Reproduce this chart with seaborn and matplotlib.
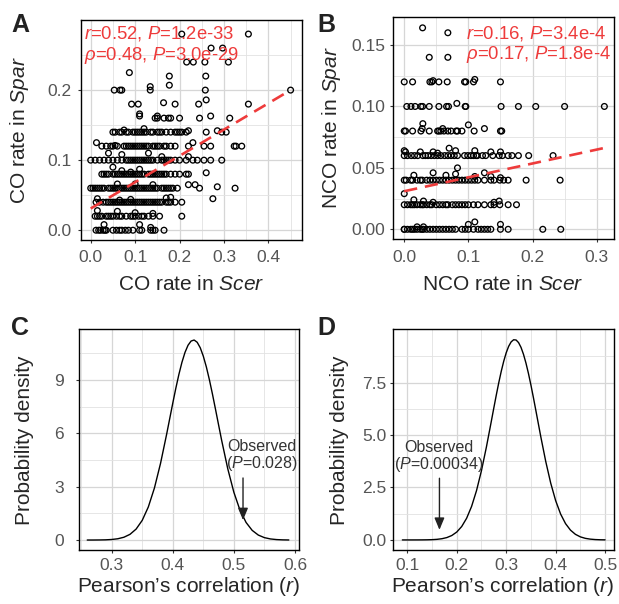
import matplotlib
matplotlib.use("Agg")
import matplotlib.pyplot as plt
from matplotlib.ticker import FixedLocator
from matplotlib.transforms import Bbox
import numpy as np
import seaborn as sns

# ---- Panel A: CO rates (Scer on x, Spar on y), grouped by Spar level ----
co_spar_levels = [0.00, 0.02, 0.04, 0.06, 0.08, 0.10, 0.12, 0.14, 0.16, 0.18, 0.20, 0.24, 0.26, 0.28]
co_scer_at_level = [
    [0.012, 0.018, 0.022, 0.028, 0.032, 0.035, 0.05, 0.058, 0.065, 0.07, 0.078, 0.085, 0.095, 0.11, 0.115, 0.135,
     0.14, 0.145, 0.165],
    [0.01, 0.015, 0.02, 0.025, 0.035, 0.04, 0.045, 0.05, 0.058, 0.065, 0.07, 0.08, 0.09, 0.095, 0.1, 0.108, 0.115,
     0.12, 0.13, 0.14, 0.155, 0.205],
    [0.012, 0.02, 0.028, 0.035, 0.04, 0.045, 0.05, 0.055, 0.06, 0.065, 0.07, 0.075, 0.08, 0.085, 0.09, 0.095, 0.1,
     0.105, 0.11, 0.115, 0.12, 0.125, 0.13, 0.135, 0.14, 0.145, 0.15, 0.155, 0.16, 0.17, 0.175, 0.18, 0.19, 0.205],
    [0.0, 0.005, 0.01, 0.015, 0.02, 0.025, 0.03, 0.04, 0.045, 0.05, 0.055, 0.06, 0.065, 0.07, 0.075, 0.08, 0.085,
     0.09, 0.095, 0.1, 0.105, 0.11, 0.115, 0.12, 0.125, 0.13, 0.135, 0.14, 0.145, 0.15, 0.16, 0.165, 0.17, 0.175,
     0.18, 0.185, 0.195, 0.245, 0.325],
    [0.025, 0.03, 0.035, 0.04, 0.05, 0.055, 0.06, 0.065, 0.07, 0.075, 0.08, 0.085, 0.09, 0.095, 0.1, 0.105, 0.11,
     0.115, 0.12, 0.13, 0.135, 0.14, 0.145, 0.15, 0.155, 0.16, 0.165, 0.17, 0.18, 0.19, 0.2, 0.215, 0.22],
    [0.0, 0.01, 0.02, 0.03, 0.04, 0.05, 0.06, 0.07, 0.08, 0.085, 0.09, 0.095, 0.1, 0.105, 0.11, 0.115, 0.12, 0.125,
     0.13, 0.135, 0.14, 0.15, 0.16, 0.165, 0.17, 0.175, 0.18, 0.19, 0.2, 0.215, 0.23, 0.24, 0.255, 0.27, 0.295],
    [0.045, 0.05, 0.06, 0.075, 0.08, 0.085, 0.09, 0.095, 0.1, 0.105, 0.11, 0.115, 0.12, 0.125, 0.13, 0.14, 0.145,
     0.15, 0.155, 0.165, 0.17, 0.18, 0.19, 0.255, 0.27, 0.323, 0.327, 0.34],
    [0.05, 0.055, 0.065, 0.07, 0.08, 0.085, 0.095, 0.1, 0.105, 0.11, 0.115, 0.12, 0.125, 0.135, 0.14, 0.15, 0.155,
     0.16, 0.17, 0.18, 0.19, 0.195, 0.2, 0.205, 0.215, 0.26, 0.295, 0.305],
    [0.145, 0.15, 0.165, 0.175, 0.18, 0.2, 0.245, 0.313],
    [0.092, 0.107, 0.19, 0.243, 0.355],
    [0.053, 0.066, 0.07, 0.134, 0.258, 0.45],
    [0.216, 0.231, 0.257, 0.31],
    [0.271, 0.297],
    [0.205, 0.355],
]
# points that sit between the main levels
co_extra_scer = [0.03, 0.11, 0.135, 0.015, 0.06, 0.1, 0.14, 0.015, 0.17, 0.18, 0.275, 0.09, 0.065, 0.06, 0.1, 0.14,
                 0.22, 0.235, 0.285, 0.05, 0.07, 0.09, 0.11, 0.26, 0.07, 0.04, 0.13, 0.16, 0.22, 0.013, 0.025, 0.035,
                 0.055, 0.23, 0.22, 0.075, 0.12, 0.22, 0.285, 0.11, 0.11, 0.15, 0.27, 0.164, 0.26, 0.134, 0.177,
                 0.177, 0.259, 0.087]
co_extra_spar = [0.008, 0.008, 0.004, 0.028, 0.027, 0.025, 0.024, 0.045, 0.046, 0.047, 0.045, 0.044, 0.043, 0.066,
                 0.066, 0.065, 0.065, 0.065, 0.062, 0.09, 0.085, 0.083, 0.087, 0.082, 0.108, 0.11, 0.11, 0.105,
                 0.105, 0.125, 0.12, 0.12, 0.121, 0.125, 0.12, 0.143, 0.145, 0.142, 0.142, 0.166, 0.163, 0.163,
                 0.163, 0.182, 0.186, 0.205, 0.207, 0.22, 0.22, 0.225]
co_fit_x = [0.0, 0.45]
co_fit_y = [0.031, 0.2]

# ---- Panel B: NCO rates ----
nco_spar_levels = [0.00, 0.02, 0.04, 0.06, 0.08, 0.10, 0.12, 0.14, 0.16]
nco_scer_at_level = [
    [0.0, 0.0, 0.005, 0.01, 0.013, 0.016, 0.02, 0.025, 0.028, 0.03, 0.035, 0.04, 0.045, 0.05, 0.055, 0.06, 0.065,
     0.07, 0.075, 0.08, 0.09, 0.095, 0.1, 0.108, 0.115, 0.12, 0.125, 0.13, 0.135, 0.15, 0.162, 0.216, 0.244],
    [0.0, 0.005, 0.01, 0.013, 0.016, 0.02, 0.025, 0.028, 0.03, 0.035, 0.04, 0.043, 0.05, 0.055, 0.06, 0.065, 0.068,
     0.075, 0.08, 0.085, 0.09, 0.095, 0.1, 0.108, 0.115, 0.125, 0.135, 0.14, 0.149, 0.162, 0.175],
    [0.0, 0.003, 0.01, 0.013, 0.02, 0.025, 0.028, 0.035, 0.04, 0.045, 0.05, 0.055, 0.06, 0.065, 0.07, 0.075, 0.08,
     0.085, 0.09, 0.095, 0.1, 0.105, 0.11, 0.115, 0.125, 0.135, 0.14, 0.149, 0.155, 0.162, 0.19, 0.243],
    [0.0, 0.005, 0.011, 0.016, 0.021, 0.029, 0.033, 0.037, 0.042, 0.047, 0.052, 0.057, 0.063, 0.068, 0.073, 0.078,
     0.083, 0.094, 0.099, 0.104, 0.108, 0.112, 0.114, 0.122, 0.127, 0.138, 0.148, 0.153, 0.162, 0.168, 0.178,
     0.194, 0.232],
    [0.0, 0.002, 0.013, 0.026, 0.039, 0.052, 0.054, 0.057, 0.062, 0.068, 0.073, 0.081, 0.083, 0.09, 0.109, 0.15,
     0.152],
    [0.004, 0.0105, 0.017, 0.026, 0.0286, 0.039, 0.054, 0.066, 0.069, 0.095, 0.096, 0.151, 0.178, 0.205, 0.25,
     0.312],
    [0.0, 0.013, 0.04, 0.043, 0.054, 0.067, 0.094, 0.096, 0.108, 0.15],
    [0.039, 0.068],
    [0.068],
]
nco_extra_scer = [0.1, 0.11, 0.15, 0.02, 0.03, 0.015, 0.03, 0.045, 0.14, 0.148, 0.015, 0.045, 0.065, 0.083, 0.08,
                  0.11, 0.125, 0.135, 0.15, 0.0, 0.0, 0.002, 0.025, 0.045, 0.052, 0.07, 0.08, 0.11, 0.135, 0.15,
                  0.029, 0.028, 0.06, 0.1, 0.125, 0.082, 0.045, 0.11, 0.0286]
nco_extra_spar = [0.004, 0.006, 0.004, 0.002, 0.002, 0.024, 0.023, 0.022, 0.022, 0.023, 0.044, 0.046, 0.044, 0.05,
                  0.045, 0.043, 0.046, 0.043, 0.042, 0.029, 0.064, 0.063, 0.063, 0.063, 0.062, 0.066, 0.064, 0.064,
                  0.063, 0.063, 0.086, 0.082, 0.082, 0.085, 0.082, 0.1025, 0.121, 0.122, 0.164]
nco_fit_x = [0.0, 0.31]
nco_fit_y = [0.031, 0.066]

# ---- Panel C: null distribution of r for CO ----
c_r = [0.26, 0.27, 0.28, 0.29, 0.30, 0.31, 0.32, 0.33, 0.34, 0.35, 0.36, 0.37, 0.38, 0.39, 0.395, 0.40, 0.405,
       0.41, 0.415, 0.42, 0.425, 0.43, 0.435, 0.44, 0.445, 0.45, 0.455, 0.46, 0.465, 0.47, 0.475, 0.48, 0.49,
       0.50, 0.51, 0.52, 0.53, 0.54, 0.55, 0.56, 0.57, 0.58, 0.59]
c_density = [0.0005, 0.0016, 0.005, 0.012, 0.031, 0.072, 0.157, 0.321, 0.616, 1.106, 1.86, 2.927, 4.313, 5.954,
             6.824, 7.693, 8.532, 9.309, 9.991, 10.548, 10.954, 11.19, 11.247, 11.12, 10.811, 10.34, 9.731,
             9.008, 8.202, 7.347, 6.475, 5.611, 4.013, 2.688, 1.684, 0.989, 0.544, 0.28, 0.135, 0.061, 0.026,
             0.01, 0.004]
c_observed = 0.515
c_label = "Observed\n($\\mathit{P}$=0.028)"

# ---- Panel D: null distribution of r for NCO ----
d_r = [0.09, 0.10, 0.11, 0.12, 0.13, 0.14, 0.15, 0.16, 0.17, 0.18, 0.19, 0.20, 0.21, 0.22, 0.23, 0.24, 0.25,
       0.26, 0.27, 0.275, 0.28, 0.285, 0.29, 0.295, 0.30, 0.305, 0.31, 0.315, 0.32, 0.325, 0.33, 0.335, 0.34,
       0.345, 0.35, 0.355, 0.36, 0.37, 0.38, 0.39, 0.40, 0.41, 0.42, 0.43, 0.44, 0.45, 0.46, 0.47, 0.48, 0.49,
       0.50]
d_density = [0.0, 0.0001, 0.0004, 0.001, 0.0025, 0.006, 0.013, 0.028, 0.058, 0.113, 0.211, 0.376, 0.639, 1.035,
             1.597, 2.353, 3.306, 4.432, 5.667, 6.295, 6.91, 7.497, 8.039, 8.518, 8.92, 9.23, 9.44, 9.541, 9.53,
             9.407, 9.177, 8.846, 8.428, 7.935, 7.383, 6.789, 6.169, 4.917, 3.738, 2.711, 1.875, 1.237, 0.778,
             0.467, 0.267, 0.146, 0.076, 0.038, 0.018, 0.008, 0.0035]
d_observed = 0.165
d_label = "Observed\n($\\mathit{P}$=0.00034)"


def flatten(levels, xs_at_level, extra_x, extra_y):
    xs, ys = [], []
    for lev, xs_here in zip(levels, xs_at_level):
        xs += xs_here
        ys += [lev] * len(xs_here)
    return np.array(xs + extra_x), np.array(ys + extra_y)


sns.set_theme(style="white")
plt.rcParams["font.family"] = ["Liberation Sans", "DejaVu Sans"]
plt.rcParams["mathtext.fontset"] = "custom"
plt.rcParams["mathtext.rm"] = "Liberation Sans"
plt.rcParams["mathtext.it"] = "Liberation Sans:italic"
plt.rcParams["mathtext.bf"] = "Liberation Sans:bold"

red = "#EE3B3B"
tick_grey = "#555555"
W, H = 619, 604

fig = plt.figure(figsize=(W / 100, H / 100), dpi=100)
ax_a = fig.add_axes([0.1304, 0.6026, 0.3570, 0.3642])
ax_b = fig.add_axes([0.6344, 0.6043, 0.3575, 0.3671])
ax_c = fig.add_axes([0.1276, 0.0894, 0.3554, 0.3654])
ax_d = fig.add_axes([0.6354, 0.0894, 0.3565, 0.3654])


def style_axes(ax, xticks, yticks, xminor, yminor, xfmt, yfmt):
    ax.xaxis.set_major_locator(FixedLocator(xticks))
    ax.yaxis.set_major_locator(FixedLocator(yticks))
    ax.xaxis.set_minor_locator(FixedLocator(xminor))
    ax.yaxis.set_minor_locator(FixedLocator(yminor))
    ax.xaxis.set_major_formatter(plt.FormatStrFormatter(xfmt))
    ax.yaxis.set_major_formatter(plt.FormatStrFormatter(yfmt))
    ax.grid(which="major", color="#D6D6D6", linewidth=0.9)
    ax.grid(which="minor", color="#E2E2E2", linewidth=0.6)
    ax.set_axisbelow(True)
    for sp in ax.spines.values():
        sp.set_color("black")
        sp.set_linewidth(1.0)
    ax.tick_params(which="major", length=2.5, width=0.8, color="#333333", labelcolor=tick_grey,
                   labelsize=12.5, pad=4, bottom=True, left=True)
    ax.tick_params(which="minor", length=0)


def place_labels(ax, xlabel, ylabel, xlab_px, ylab_px):
    # axis titles centred at given pixel positions (from top-left)
    ax.set_xlabel(xlabel, fontsize=15)
    ax.set_ylabel(ylabel, fontsize=15)
    ax.xaxis.set_label_coords(xlab_px[0] / W, 1 - xlab_px[1] / H, transform=fig.transFigure)
    ax.yaxis.set_label_coords(ylab_px[0] / W, 1 - ylab_px[1] / H, transform=fig.transFigure)
    ax.xaxis.label.set_verticalalignment("center")
    ax.yaxis.label.set_verticalalignment("center")


# Panel A
co_x, co_y = flatten(co_spar_levels, co_scer_at_level, co_extra_scer, co_extra_spar)
sns.scatterplot(x=co_x, y=co_y, ax=ax_a, marker="o", s=17, facecolor="none", edgecolor="black", linewidth=0.95)
sns.lineplot(x=co_fit_x, y=co_fit_y, ax=ax_a, color=red, linewidth=1.9)
ax_a.lines[-1].set_dashes([5, 3])
ax_a.set_xlim(-0.0225, 0.475)
ax_a.set_ylim(-0.014, 0.30)
style_axes(ax_a, [0, 0.1, 0.2, 0.3, 0.4], [0, 0.1, 0.2], [0.05, 0.15, 0.25, 0.35, 0.45],
           [0.05, 0.15, 0.25], "%.1f", "%.1f")
place_labels(ax_a, "CO rate in $\\mathit{Scer}$", "CO rate in $\\mathit{Spar}$", (191, 285), (20, 130))
ax_a.text(-0.015, 0.281, "$\\mathit{r}$=0.52, $\\mathit{P}$=1.2e-33", color=red, fontsize=13.3, va="center")
ax_a.text(-0.015, 0.250, "$\\mathit{\\rho}$=0.48, $\\mathit{P}$=3.0e-29", color=red, fontsize=13.3, va="center")

# Panel B
nco_x, nco_y = flatten(nco_spar_levels, nco_scer_at_level, nco_extra_scer, nco_extra_spar)
sns.scatterplot(x=nco_x, y=nco_y, ax=ax_b, marker="o", s=17, facecolor="none", edgecolor="black", linewidth=0.95)
sns.lineplot(x=nco_fit_x, y=nco_fit_y, ax=ax_b, color=red, linewidth=1.9)
ax_b.lines[-1].set_dashes([5, 3])
ax_b.set_xlim(-0.018, 0.327)
ax_b.set_ylim(-0.0079, 0.1726)
style_axes(ax_b, [0, 0.1, 0.2, 0.3], [0, 0.05, 0.10, 0.15], [0.05, 0.15, 0.25],
           [0.025, 0.075, 0.125], "%.1f", "%.2f")
place_labels(ax_b, "NCO rate in $\\mathit{Scer}$", "NCO rate in $\\mathit{Spar}$", (503, 285), (331.5, 128))
ax_b.text(0.097, 0.1596, "$\\mathit{r}$=0.16, $\\mathit{P}$=3.4e-4", color=red, fontsize=13.3, va="center")
ax_b.text(0.097, 0.1420, "$\\mathit{\\rho}$=0.17, $\\mathit{P}$=1.8e-4", color=red, fontsize=13.3, va="center")

# Panel C
sns.lineplot(x=c_r, y=c_density, ax=ax_c, color="black", linewidth=1.0)
ax_c.set_xlim(0.2465, 0.6066)
ax_c.set_ylim(-0.56, 11.85)
style_axes(ax_c, [0.3, 0.4, 0.5, 0.6], [0, 3, 6, 9], [0.25, 0.35, 0.45, 0.55], [1.5, 4.5, 7.5, 10.5],
           "%.1f", "%d")
place_labels(ax_c, "Pearson\u2019s correlation ($\\mathit{r}$)", "Probability density", (189, 587), (25, 440))
ax_c.annotate("", xy=(c_observed, 1.12), xytext=(c_observed, 3.49),
              arrowprops=dict(arrowstyle="-|>,head_length=0.6,head_width=0.25", color="#222222", lw=1.0,
                              shrinkA=0, shrinkB=0))
ax_c.text(0.5455, 4.7, c_label, ha="center", va="center", fontsize=11.5, color="#333333", linespacing=1.0)

# Panel D
sns.lineplot(x=d_r, y=d_density, ax=ax_d, color="black", linewidth=1.0)
ax_d.set_xlim(0.0717, 0.518)
ax_d.set_ylim(-0.48, 10.04)
style_axes(ax_d, [0.1, 0.2, 0.3, 0.4, 0.5], [0, 2.5, 5.0, 7.5], [0.15, 0.25, 0.35, 0.45],
           [1.25, 3.75, 6.25, 8.75], "%.1f", "%.1f")
place_labels(ax_d, "Pearson\u2019s correlation ($\\mathit{r}$)", "Probability density", (503, 587), (340, 440))
ax_d.annotate("", xy=(d_observed, 0.48), xytext=(d_observed, 2.94),
              arrowprops=dict(arrowstyle="-|>,head_length=0.6,head_width=0.25", color="#222222", lw=1.0,
                              shrinkA=0, shrinkB=0))
ax_d.text(0.163, 3.97, d_label, ha="center", va="center", fontsize=11.5, color="#333333", linespacing=1.0)

# Panel letters
for letter, (px, py) in zip("ABCD", [(11, 13), (317, 13), (11, 316), (317, 316)]):
    fig.text(px / W, 1 - py / H, letter, fontsize=18, fontweight="bold", ha="left", va="top",
             color="#222222")

# nudge tick label padding so that labels land where they sit in the reference
# targets: x tick label centre (px from top), y tick label right edge (px from left)
tick_targets = {ax_a: (258, 72), ax_b: (257, 385), ax_c: (565, 64), ax_d: (565, 386.5)}
fig.canvas.draw()
renderer = fig.canvas.get_renderer()
for ax, (x_centre, y_right) in tick_targets.items():
    xb = Bbox.union([t.get_window_extent(renderer) for t in ax.get_xticklabels() if t.get_text()])
    yb = Bbox.union([t.get_window_extent(renderer) for t in ax.get_yticklabels() if t.get_text()])
    cur_x_centre = H - (xb.y0 + xb.y1) / 2
    cur_y_right = yb.x1
    ax.tick_params(axis="x", which="major", pad=4 + (x_centre - cur_x_centre) * 0.72)
    ax.tick_params(axis="y", which="major", pad=4 + (cur_y_right - y_right) * 0.72)

fig.savefig("out.png", dpi=100)
